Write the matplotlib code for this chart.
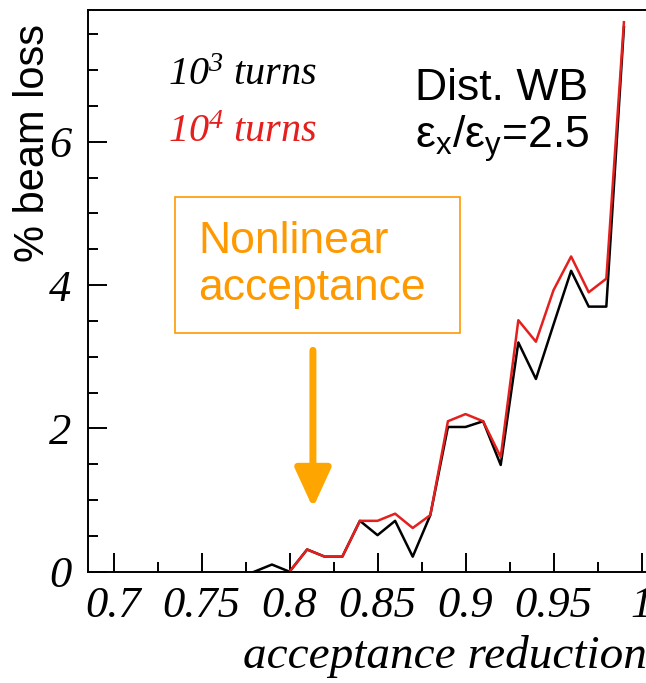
import numpy as np
import matplotlib
matplotlib.use("Agg")
from matplotlib import pyplot as plt
from matplotlib.patches import Rectangle
from matplotlib.ticker import MultipleLocator, FixedLocator, FixedFormatter

plt.rcParams['mathtext.fontset'] = 'custom'
plt.rcParams['mathtext.rm'] = 'Liberation Serif:italic'
plt.rcParams['mathtext.it'] = 'Liberation Serif:italic'
plt.rcParams['mathtext.sf'] = 'Liberation Sans'

# acceptance reduction vs % beam loss
x_1e3 = [0.78, 0.79, 0.80, 0.81, 0.82, 0.83, 0.84, 0.85, 0.86, 0.87, 0.88,
         0.89, 0.90, 0.91, 0.92, 0.93, 0.94, 0.95, 0.96, 0.97, 0.98, 0.99]
loss_1e3 = [0.0, 0.1, 0.0, 0.31, 0.21, 0.21, 0.71, 0.51, 0.71, 0.21, 0.79,
            2.02, 2.02, 2.1, 1.49, 3.2, 2.69, 3.45, 4.2, 3.7, 3.7, 7.6]

x_1e4 = [0.80, 0.81, 0.82, 0.83, 0.84, 0.85, 0.86, 0.87, 0.88,
         0.89, 0.90, 0.91, 0.92, 0.93, 0.94, 0.95, 0.96, 0.97, 0.98, 0.99]
loss_1e4 = [0.0, 0.31, 0.21, 0.21, 0.71, 0.71, 0.81, 0.61, 0.79,
            2.1, 2.2, 2.1, 1.6, 3.51, 3.21, 3.93, 4.4, 3.9, 4.09, 7.67]

x_ticks = [0.7, 0.75, 0.8, 0.85, 0.9, 0.95, 1.0]
x_ticklabels = ['0.7', '0.75', '0.8', '0.85', '0.9', '0.95', '1']
y_ticks = [0, 2, 4, 6]
y_ticklabels = ['0', '2', '4', '6']

W, H = 646, 683
orange = '#FF9900'
red = '#E4201E'
serif = 'Liberation Serif'
sans = 'Liberation Sans'


def fx(px):
    return px / W


def fy(py):
    return 1 - py / H


fig = plt.figure(figsize=(W / 100, H / 100), dpi=100)
# axes runs off the right edge like the cropped slide
ax = fig.add_axes([fx(88), fy(571.7), (677.6 - 88) / W, (571.7 - 10) / H])

ax.plot(x_1e3, loss_1e3, color='black', lw=1.8)
ax.plot(x_1e4, loss_1e4, color=red, lw=1.8)

ax.set_xlim(0.6855, 1.0205)
ax.set_ylim(0, 7.84)

ax.xaxis.set_major_locator(FixedLocator(x_ticks))
ax.xaxis.set_major_formatter(FixedFormatter(x_ticklabels))
ax.xaxis.set_minor_locator(MultipleLocator(0.025))
ax.yaxis.set_major_locator(FixedLocator(y_ticks))
ax.yaxis.set_major_formatter(FixedFormatter(y_ticklabels))
ax.yaxis.set_minor_locator(MultipleLocator(0.5))

ax.tick_params(which='both', direction='in', top=False, right=False, width=1.4)
ax.tick_params(which='major', length=14)
ax.tick_params(which='minor', length=7.5)
ax.tick_params(axis='x', which='major', pad=10)
ax.tick_params(axis='y', which='major', pad=12)
for lab in ax.get_xticklabels() + ax.get_yticklabels():
    lab.set_fontfamily(serif)
    lab.set_fontstyle('italic')
    lab.set_fontsize(32)
for s in ax.spines.values():
    s.set_linewidth(1.4)
ax.spines['right'].set_visible(False)

fig.text(fx(243), fy(668), 'acceptance reduction', fontfamily=serif,
         fontstyle='italic', fontsize=34, va='baseline', ha='left')
fig.text(fx(33), fy(143), '% beam loss', fontfamily=sans, fontsize=30,
         rotation=90, ha='center', va='center')

fig.text(fx(168), fy(85), r'$10^3$ turns', fontfamily=serif, fontstyle='italic',
         fontsize=29, va='baseline', color='black')
fig.text(fx(168), fy(142), r'$10^4$ turns', fontfamily=serif, fontstyle='italic',
         fontsize=29, va='baseline', color=red)

fig.text(fx(415), fy(100), 'Dist. WB', fontfamily=sans, fontsize=32, va='baseline')
fig.text(fx(415), fy(148), r'$\mathsf{ε_x/ε_y}$=2.5', fontfamily=sans,
         fontsize=32, va='baseline')

fig.add_artist(Rectangle((fx(175), fy(333)), (460 - 175) / W, (333 - 197) / H,
                         transform=fig.transFigure, fill=False,
                         edgecolor=orange, lw=1.2))
fig.text(fx(198), fy(253), 'Nonlinear', fontfamily=sans, fontsize=32,
         color=orange, va='baseline')
fig.text(fx(198), fy(300), 'acceptance', fontfamily=sans, fontsize=32,
         color=orange, va='baseline')

ax.annotate('', xy=(0.8133, 0.89), xytext=(0.8133, 3.09),
            arrowprops=dict(arrowstyle='-|>,head_length=1.2,head_width=0.55',
                            mutation_scale=20, lw=5, color='#FFA500',
                            shrinkA=0, shrinkB=0))

fig.savefig('out.png', dpi=100)
